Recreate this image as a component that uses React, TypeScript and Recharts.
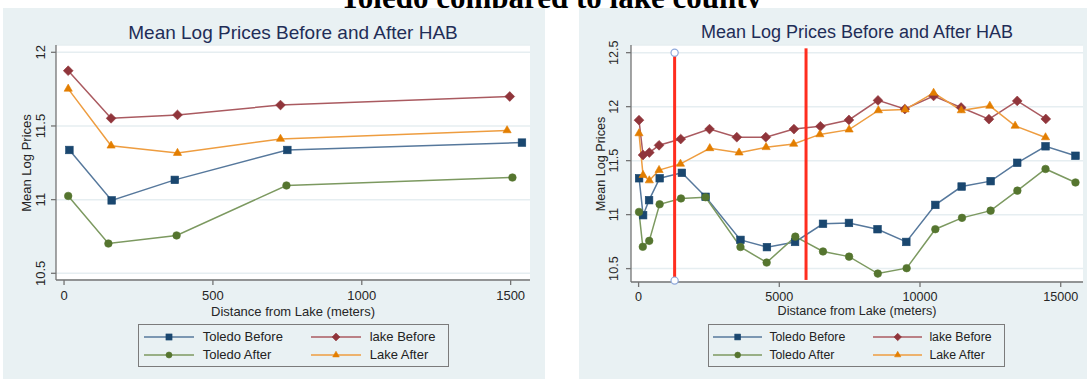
import React from "react"
import { LineChart, Line, XAxis, YAxis, CartesianGrid, ReferenceLine, ReferenceDot, Legend } from "recharts"

// distance from lake (m) and mean log price, one array per series
const toledoBeforeX = [18, 160, 372, 750, 1538, 2380, 3620, 4560, 5560, 6553, 7475, 8490, 9513, 10544, 11480, 12510, 13455, 14460, 15525]
const toledoBeforeY = [11.337, 10.995, 11.134, 11.337, 11.387, 11.165, 10.766, 10.699, 10.747, 10.915, 10.923, 10.865, 10.747, 11.09, 11.26, 11.31, 11.48, 11.633, 11.545]

const lakeBeforeX = [14, 158, 381, 727, 1497, 2520, 3490, 4520, 5520, 6460, 7475, 8507, 9460, 10483, 11460, 12450, 13455, 14470]
const lakeBeforeY = [11.875, 11.552, 11.575, 11.642, 11.7, 11.792, 11.717, 11.717, 11.792, 11.818, 11.877, 12.058, 11.978, 12.099, 11.992, 11.884, 12.053, 11.886]

const toledoAfterX = [14, 149, 378, 747, 1506, 2380, 3620, 4550, 5569, 6553, 7480, 8500, 9525, 10544, 11492, 12510, 13460, 14460, 15525]
const toledoAfterY = [11.025, 10.702, 10.757, 11.096, 11.15, 11.161, 10.7, 10.556, 10.796, 10.659, 10.611, 10.454, 10.504, 10.865, 10.97, 11.037, 11.222, 11.423, 11.298]

const lakeAfterX = [14, 158, 381, 727, 1488, 2530, 3570, 4530, 5510, 6440, 7480, 8520, 9470, 10483, 11468, 12480, 13380, 14460]
const lakeAfterY = [11.752, 11.366, 11.316, 11.412, 11.47, 11.614, 11.574, 11.624, 11.655, 11.743, 11.787, 11.965, 11.973, 12.127, 11.965, 12.007, 11.822, 11.715]

// the left panel only shows the first bins
const nearCount = 5

const xTicksNear = [0, 500, 1000, 1500]
const xTicksFull = [0, 5000, 10000, 15000]
const yTicksNear = [10.5, 11, 11.5, 12]
const yTicksFull = [10.5, 11, 11.5, 12, 12.5]

// red cut-off lines on the right panel: x, top, bottom
const cutoffX = [1280, 5950]
const cutoffTop = [12.5, 12.54]
const cutoffBottom = [10.389, 10.395]

const FONT = '"Liberation Sans", Arial, Helvetica, sans-serif'
const PANEL_BG = "#e9f1f3"
const GRID = "#e6eef1"
const AXIS = "#747474"
const TITLE = "#1f2d57"

const series = [
  { name: "Toledo Before", xs: toledoBeforeX, ys: toledoBeforeY, marker: "square", fill: "#1a476f", line: "#56789c" },
  { name: "lake Before", xs: lakeBeforeX, ys: lakeBeforeY, marker: "diamond", fill: "#90353b", line: "#aa5a60" },
  { name: "Toledo After", xs: toledoAfterX, ys: toledoAfterY, marker: "circle", fill: "#55752f", line: "#7c9960" },
  { name: "Lake After", xs: lakeAfterX, ys: lakeAfterY, marker: "triangle", fill: "#e37e00", line: "#ee9d40" },
]

const points = (xs: number[], ys: number[], n: number) =>
  xs.slice(0, n).map((x, i) => ({ x, y: ys[i] }))

function Marker({ kind, cx, cy, color, k = 1 }: any) {
  if (cx == null || cy == null) return null
  if (kind === "square") {
    const s = 7.6 * k
    return <rect x={cx - s / 2} y={cy - s / 2} width={s} height={s} fill={color} stroke={color} strokeWidth={0.6} />
  }
  if (kind === "diamond") {
    const h = 4.9 * k
    return (
      <polygon
        points={`${cx},${cy - h} ${cx + h},${cy} ${cx},${cy + h} ${cx - h},${cy}`}
        fill={color}
        stroke={color}
        strokeWidth={0.6}
      />
    )
  }
  if (kind === "circle") {
    return <circle cx={cx} cy={cy} r={3.8 * k} fill={color} stroke={color} strokeWidth={0.6} />
  }
  const a = 8.2 * k
  const h = a * 0.866
  return (
    <polygon
      points={`${cx},${cy - (2 * h) / 3} ${cx + a / 2},${cy + h / 3} ${cx - a / 2},${cy + h / 3}`}
      fill={color}
      stroke={color}
      strokeWidth={0.6}
    />
  )
}

function LegendBox({ geo }: any) {
  return (
    <div
      style={{
        position: "relative",
        width: geo.w,
        height: geo.h,
        border: "1.5px solid #7b7b7b",
        boxSizing: "border-box",
        fontFamily: FONT,
        fontSize: geo.fs,
        color: "#222",
      }}
    >
      {series.map((s, i) => {
        const col = i % 2
        const row = Math.floor(i / 2)
        return (
          <div
            key={s.name}
            style={{
              position: "absolute",
              left: geo.cols[col] - 1.5,
              top: geo.rows[row] - 1.5 - 10,
              height: 20,
              display: "flex",
              alignItems: "center",
              whiteSpace: "nowrap",
            }}
          >
            <svg width={geo.lineLen} height={20} style={{ display: "block" }}>
              <line x1={0} y1={10} x2={geo.lineLen} y2={10} stroke={s.line} strokeWidth={1.5} />
              <Marker kind={s.marker} cx={geo.lineLen / 2} cy={10} color={s.fill} k={geo.mk} />
            </svg>
            <span style={{ marginLeft: geo.textOff - geo.lineLen, lineHeight: "20px" }}>{s.name}</span>
          </div>
        )
      })}
    </div>
  )
}

function XTick({ x, y, payload, fs }: any) {
  return (
    <text x={x} y={y + 8} textAnchor="middle" dominantBaseline="central" fontSize={fs} fontFamily={FONT} fill="#262626">
      {payload.value}
    </text>
  )
}

function YTick({ y, payload, lx, fs }: any) {
  return (
    <text
      x={lx}
      y={y}
      transform={`rotate(-90 ${lx} ${y})`}
      textAnchor="middle"
      dominantBaseline="central"
      fontSize={fs}
      fontFamily={FONT}
      fill="#262626"
    >
      {payload.value}
    </text>
  )
}

function Panel(p: any) {
  const H = 371
  const plotL = p.margin.left + 40
  const plotR = p.width - p.margin.right
  const plotB = H - p.margin.bottom - 40
  const cx = (plotL + plotR) / 2
  const cy = (p.margin.top + plotB) / 2
  return (
    <div style={{ position: "absolute", left: p.left, top: 8, width: p.width, height: H, background: PANEL_BG }}>
      <LineChart width={p.width} height={H} margin={p.margin}>
        <CartesianGrid vertical={false} fill="#ffffff" stroke={GRID} strokeWidth={1.5} />
        <XAxis
          type="number"
          dataKey="x"
          scale="linear"
          domain={p.xDomain}
          ticks={p.xTicks}
          interval={0}
          allowDataOverflow
          height={40}
          tickSize={5}
          stroke={AXIS}
          strokeWidth={1.3}
          tick={(t: any) => <XTick {...t} fs={p.tickFs} />}
        />
        <YAxis
          type="number"
          scale="linear"
          domain={p.yDomain}
          ticks={p.yTicks}
          interval={0}
          allowDataOverflow
          width={40}
          tickSize={5}
          stroke={AXIS}
          strokeWidth={1.3}
          tick={(t: any) => <YTick {...t} lx={plotL - p.yLabelGap} fs={p.tickFs} />}
        />
        {series.map((s) => (
          <Line
            key={s.name}
            name={s.name}
            data={points(s.xs, s.ys, p.count)}
            dataKey="y"
            type="linear"
            stroke={s.line}
            strokeWidth={1.5}
            dot={(d: any) => <Marker key={`${s.name}-${d.index}`} kind={s.marker} cx={d.cx} cy={d.cy} color={s.fill} />}
            activeDot={false}
            isAnimationActive={false}
          />
        ))}
        {p.cutoffs &&
          cutoffX.map((x, i) => (
            <ReferenceLine
              key={`cut-${i}`}
              segment={[
                { x, y: cutoffTop[i] },
                { x, y: cutoffBottom[i] },
              ]}
              stroke="#ff2d1f"
              strokeWidth={3}
              ifOverflow="visible"
            />
          ))}
        {p.cutoffs &&
          [cutoffTop[0], cutoffBottom[0]].map((y, i) => (
            <ReferenceDot
              key={`cutdot-${i}`}
              x={cutoffX[0]}
              y={y}
              r={3.6}
              fill="#ffffff"
              stroke="#8fa9dc"
              strokeWidth={1.2}
              ifOverflow="visible"
            />
          ))}
        <Legend
          layout="horizontal"
          verticalAlign="middle"
          align="center"
          wrapperStyle={{ left: p.legend.left, top: p.legend.top, width: p.legend.w, height: p.legend.h }}
          content={() => <LegendBox geo={p.legend} />}
        />
      </LineChart>
      <div
        style={{
          position: "absolute",
          left: cx,
          top: 24,
          transform: "translate(-50%, -50%)",
          whiteSpace: "nowrap",
          fontFamily: FONT,
          fontSize: p.titleFs,
          lineHeight: 1,
          color: TITLE,
        }}
      >
        Mean Log Prices Before and After HAB
      </div>
      <div
        style={{
          position: "absolute",
          left: cx,
          top: p.xTitleY,
          transform: "translate(-50%, -50%)",
          whiteSpace: "nowrap",
          fontFamily: FONT,
          fontSize: p.axisFs,
          lineHeight: 1,
          color: "#262626",
        }}
      >
        Distance from Lake (meters)
      </div>
      <div
        style={{
          position: "absolute",
          left: p.yTitleX,
          top: cy,
          transform: "translate(-50%, -50%) rotate(-90deg)",
          whiteSpace: "nowrap",
          fontFamily: FONT,
          fontSize: p.axisFs,
          lineHeight: 1,
          color: "#262626",
        }}
      >
        Mean Log Prices
      </div>
    </div>
  )
}

export default function App() {
  return (
    <div style={{ position: "absolute", left: 0, top: 0, width: 1087, height: 379, background: "#ffffff", overflow: "hidden" }}>
      <svg width={1087} height={40} style={{ position: "absolute", left: 0, top: 0 }}>
        <text
          x={551}
          y={7.5}
          textAnchor="middle"
          fontFamily='"Liberation Serif", "Times New Roman", serif'
          fontWeight="bold"
          fontSize={31}
          fill="#000"
        >
          Toledo compared to lake county
        </text>
      </svg>
      <Panel
        left={3}
        width={542}
        margin={{ top: 37, right: 15, left: 13, bottom: 59 }}
        xDomain={[-27, 1565]}
        yDomain={[10.4545, 12.0496]}
        xTicks={xTicksNear}
        yTicks={yTicksNear}
        count={nearCount}
        cutoffs={false}
        tickFs={13}
        titleFs={19}
        axisFs={13}
        yLabelGap={15}
        xTitleY={303}
        yTitleX={23}
        legend={{ left: 135.4, top: 316, w: 310.3, h: 42.7, cols: [6.2, 173.2], rows: [13.3, 31.7], lineLen: 50, textOff: 58.6, fs: 13, mk: 0.8 }}
      />
      <Panel
        left={579}
        width={508}
        margin={{ top: 37, right: 4, left: 12, bottom: 57 }}
        xDomain={[-270, 15792]}
        yDomain={[10.376, 12.571]}
        xTicks={xTicksFull}
        yTicks={yTicksFull}
        count={99}
        cutoffs={true}
        tickFs={12.6}
        titleFs={18}
        axisFs={12.6}
        yLabelGap={17}
        xTitleY={302.7}
        yTitleX={22}
        legend={{ left: 129.2, top: 316, w: 296.5, h: 42.7, cols: [5, 165], rows: [13.3, 31.3], lineLen: 49.4, textOff: 56.7, fs: 12.3, mk: 0.77 }}
      />
    </div>
  )
}
